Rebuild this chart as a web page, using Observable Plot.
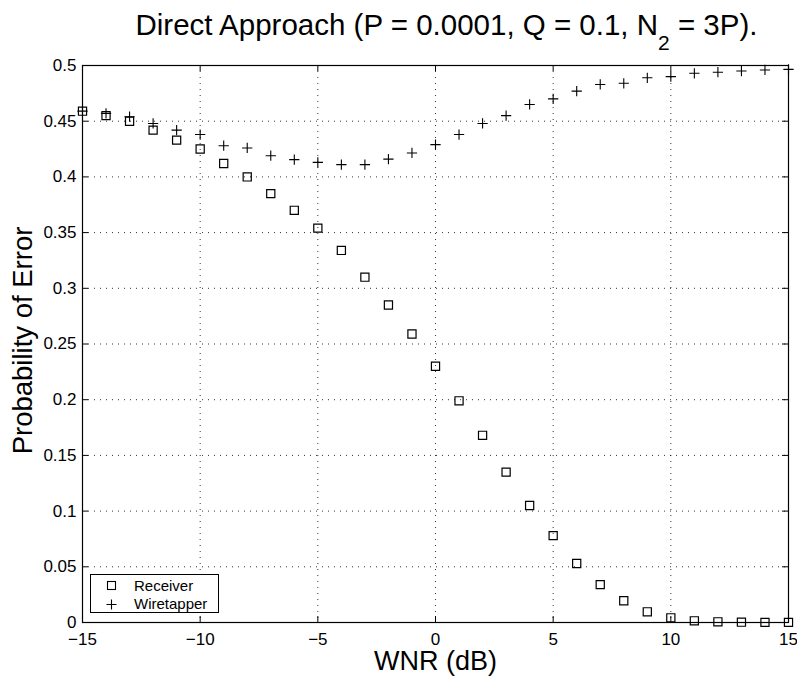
<!DOCTYPE html>
<html><head><meta charset="utf-8">
<script src="https://cdn.jsdelivr.net/npm/d3@7"></script>
<script src="https://cdn.jsdelivr.net/npm/@observablehq/plot@0.6"></script>
<style>
body{margin:0;background:#fff;font-family:"Liberation Sans",Arial,Helvetica,sans-serif;}
#wrap{position:relative;width:797px;height:676px;overflow:hidden;}
#title{position:absolute;top:9px;left:0;width:893px;text-align:center;font-size:29.5px;white-space:nowrap;color:#000;line-height:32px;}
#title .sub{font-size:21px;position:relative;top:15px;}
#legend{position:absolute;left:90px;top:574px;width:127px;height:37px;border:1px solid #000;background:#fff;font-size:15px;color:#000;}
#legend .row{position:absolute;left:0;height:18px;line-height:18px;width:127px;}
#legend svg{position:absolute;left:15px;top:3.5px;}
#legend span{position:absolute;left:43px;top:0;white-space:nowrap;}
</style></head><body>
<div id="wrap">
<div id="chart"></div>
<div id="title">Direct Approach (P = 0.0001, Q = 0.1, N<span class="sub">2</span> = 3P).</div>
<div id="legend"></div>
</div>
<script>
const wnr = [-15,-14,-13,-12,-11,-10,-9,-8,-7,-6,-5,-4,-3,-2,-1,0,1,2,3,4,5,6,7,8,9,10,11,12,13,14,15];
const receiver = [0.459,0.455,0.450,0.442,0.433,0.425,0.412,0.400,0.385,0.370,0.354,0.334,0.310,0.285,0.259,0.230,0.199,0.168,0.135,0.105,0.078,0.053,0.034,0.0195,0.0096,0.0042,0.0015,0.0006,0.0003,0.0001,0.0001];
const wiretapper = [0.459,0.457,0.454,0.448,0.442,0.438,0.428,0.426,0.419,0.4155,0.413,0.411,0.411,0.416,0.4215,0.429,0.438,0.448,0.455,0.465,0.470,0.477,0.483,0.484,0.489,0.490,0.493,0.494,0.495,0.496,0.4965];
const seriesNames = ["Receiver","Wiretapper"];
const xTicks = [-15,-10,-5,0,5,10,15];
const yTicks = [0,0.05,0.1,0.15,0.2,0.25,0.3,0.35,0.4,0.45,0.5];
const yTickLabels = ["0","0.05","0.1","0.15","0.2","0.25","0.3","0.35","0.4","0.45","0.5"];
const xLabel = "WNR (dB)";
const yLabel = "Probability of Error";

const W = 797, H = 676, mL = 82, mR = 9, mT = 65, mB = 54;
const innerW = W - mL - mR, innerH = H - mT - mB, tk = 6;

const recData = wnr.map((x, i) => ({x, y: receiver[i]}));
const wirData = wnr.map((x, i) => ({x, y: wiretapper[i]}));
const font = "Liberation Sans, Arial, Helvetica, sans-serif";
const grid = {stroke: "#000", strokeOpacity: 0.8, strokeWidth: 1, strokeDasharray: "1,5"};

const chart = Plot.plot({
  width: W, height: H,
  marginLeft: mL, marginRight: mR, marginTop: mT, marginBottom: mB,
  style: {fontFamily: font, color: "#000", background: "#fff", overflow: "visible"},
  x: {domain: [-15, 15]},
  y: {domain: [0, 0.5]},
  marks: [
    Plot.gridX(xTicks, grid),
    Plot.gridY(yTicks, grid),
    Plot.tickX(xTicks, {x: d => d, insetTop: innerH - tk, stroke: "#000"}),
    Plot.tickX(xTicks, {x: d => d, insetBottom: innerH - tk, stroke: "#000"}),
    Plot.tickY(yTicks, {y: d => d, insetRight: innerW - tk, stroke: "#000"}),
    Plot.tickY(yTicks, {y: d => d, insetLeft: innerW - tk, stroke: "#000"}),
    Plot.frame({stroke: "#000", strokeWidth: 1.2}),
    Plot.axisX({ticks: xTicks, tickSize: 0, tickPadding: 10, fontSize: 17, label: null}),
    Plot.axisY({ticks: yTicks, tickSize: 0, tickPadding: 6, fontSize: 17, label: null,
      tickFormat: d => yTickLabels[yTicks.indexOf(d)] ?? String(d)}),
    Plot.text([xLabel], {text: d => d, frameAnchor: "bottom", textAnchor: "middle", dy: 47, fontSize: 27, fill: "#000"}),
    Plot.text([yLabel], {text: d => d, frameAnchor: "left", textAnchor: "middle", lineAnchor: "middle", dx: -59, dy: -3.5, rotate: -90, fontSize: 27.5, fill: "#000"}),
    Plot.dot(recData, {x: "x", y: "y", symbol: "square", r: 4.6, stroke: "#000", strokeWidth: 1.2, fill: "none"}),
    Plot.dot(wirData, {x: "x", y: "y", symbol: "plus", r: 3.4, stroke: "#000", strokeWidth: 1.1})
  ]
});
document.getElementById("chart").appendChild(chart);

const leg = document.getElementById("legend");
const sym = [
  '<rect x="1.5" y="1.5" width="8" height="8" fill="none" stroke="#000" stroke-width="1.1"/>',
  '<path d="M0.5,5.5H10.5M5.5,0.5V10.5" stroke="#000" stroke-width="1.1"/>'
];
seriesNames.forEach((name, i) => {
  const row = document.createElement("div");
  row.className = "row";
  row.style.top = (i === 0 ? 1.7 : 20) + "px";
  row.innerHTML = `<svg width="11" height="11">${sym[i]}</svg><span>${name}</span>`;
  leg.appendChild(row);
});
</script>
</body></html>
